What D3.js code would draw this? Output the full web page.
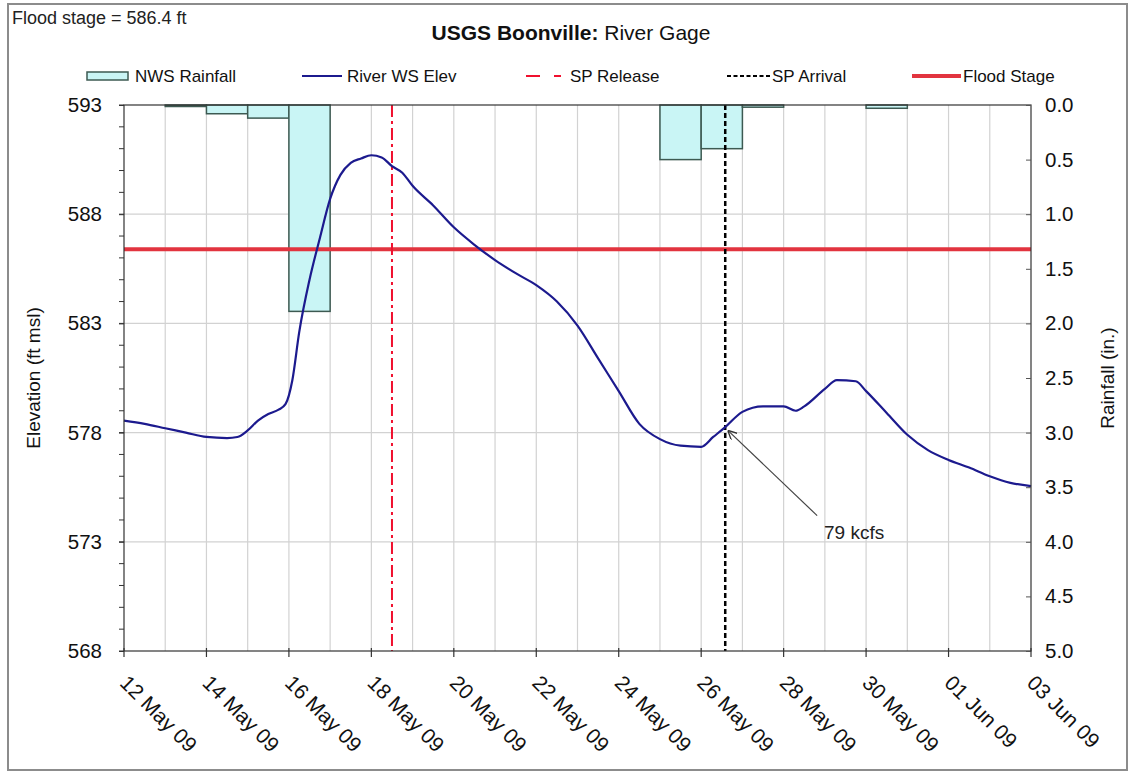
<!DOCTYPE html>
<html>
<head>
<meta charset="utf-8">
<script src="https://cdn.jsdelivr.net/npm/d3@7"></script>
<style>
  html, body { margin: 0; padding: 0; background: #fff; }
  svg { display: block; font-family: "Liberation Sans", Arial, sans-serif; }
</style>
</head>
<body>
<svg id="chart" width="1132" height="775"></svg>
<script>
// ---------------- DATA ----------------
const titleBold = "USGS Boonville:";
const titleRest = " River Gage";
const floodNote = "Flood stage = 586.4 ft";

const rainDates  = ["2009-05-13", "2009-05-14", "2009-05-15", "2009-05-16", "2009-05-25", "2009-05-26", "2009-05-27", "2009-05-30"];
const rainValues = [0.01, 0.08, 0.12, 1.89, 0.50, 0.40, 0.02, 0.03];

const elevTimes = [
  "2009-05-12 00:00","2009-05-12 12:00","2009-05-13 00:00","2009-05-13 12:00","2009-05-14 00:00",
  "2009-05-14 12:00","2009-05-14 18:00","2009-05-15 00:00","2009-05-15 06:00","2009-05-15 12:00",
  "2009-05-15 18:00","2009-05-15 22:00","2009-05-16 02:00","2009-05-16 06:00","2009-05-16 12:00",
  "2009-05-16 18:00","2009-05-17 00:00","2009-05-17 06:00","2009-05-17 12:00","2009-05-17 18:00",
  "2009-05-18 00:00","2009-05-18 06:00","2009-05-18 12:00","2009-05-18 18:00","2009-05-19 00:00",
  "2009-05-19 12:00","2009-05-20 00:00","2009-05-20 12:00","2009-05-21 00:00","2009-05-21 12:00",
  "2009-05-22 00:00","2009-05-22 12:00","2009-05-23 00:00","2009-05-23 12:00","2009-05-24 00:00",
  "2009-05-24 12:00","2009-05-25 00:00","2009-05-25 12:00","2009-05-26 00:00","2009-05-26 07:00",
  "2009-05-26 14:00","2009-05-27 00:00","2009-05-27 12:00","2009-05-28 00:00","2009-05-28 07:00",
  "2009-05-28 12:00","2009-05-29 00:00","2009-05-29 07:00","2009-05-29 18:00","2009-05-30 00:00",
  "2009-05-30 12:00","2009-05-31 00:00","2009-05-31 12:00","2009-06-01 00:00","2009-06-01 12:00",
  "2009-06-02 00:00","2009-06-02 12:00","2009-06-03 00:00"
];
const elevValues = [
  578.55, 578.4, 578.2, 578.0, 577.8,
  577.75, 577.8, 578.1, 578.55, 578.85,
  579.05, 579.3, 580.4, 582.6, 585.0,
  586.9, 588.7, 589.8, 590.35, 590.55,
  590.7, 590.6, 590.2, 589.9, 589.3,
  588.4, 587.4, 586.6, 585.9, 585.3,
  584.75, 584.0, 582.9, 581.4, 579.9,
  578.4, 577.7, 577.4, 577.35, 577.8,
  578.25, 578.95, 579.2, 579.2, 579.0,
  579.2, 580.0, 580.4, 580.35, 579.9,
  578.9, 577.9, 577.2, 576.75, 576.4,
  576.0, 575.7, 575.55
];

const floodStage = 586.4;
const spReleaseTime = "2009-05-18 12:00";
const spArrivalTime = "2009-05-26 14:00";

const xTickDates = ["2009-05-12","2009-05-14","2009-05-16","2009-05-18","2009-05-20","2009-05-22",
                    "2009-05-24","2009-05-26","2009-05-28","2009-05-30","2009-06-01","2009-06-03"];
const leftTicks  = [568, 573, 578, 583, 588, 593];
const rightTicks = [0.0, 0.5, 1.0, 1.5, 2.0, 2.5, 3.0, 3.5, 4.0, 4.5, 5.0];

const annoText = "79 kcfs";
const annoTail = ["2009-05-28 19:30", 574.2];
const annoHead = ["2009-05-26 15:30", 578.1];
const annoLabel = ["2009-05-28 23:30", 573.15];

// ---------------- SETUP ----------------
const parseT = d3.utcParse("%Y-%m-%d %H:%M");
const parseD = d3.utcParse("%Y-%m-%d");
const svg = d3.select("#chart");

const L = 124, R = 1031, T = 105, B = 651;

const x = d3.scaleUtc().domain([parseD("2009-05-12"), parseD("2009-06-03")]).range([L, R]);
const yL = d3.scaleLinear().domain([568, 593]).range([B, T]);
const yR = d3.scaleLinear().domain([0, 5]).range([T, B]);

// outer frame
svg.append("rect").attr("x", 8).attr("y", 4).attr("width", 1119).attr("height", 766)
  .attr("fill", "#fff").attr("stroke", "#8c8c8c").attr("stroke-width", 2);

// top-left note
svg.append("text").attr("x", 12).attr("y", 24).attr("font-size", 18).attr("fill", "#222").text(floodNote);

// title
const title = svg.append("text").attr("x", 571).attr("y", 40).attr("text-anchor", "middle")
  .attr("font-size", 21).attr("fill", "#111");
title.append("tspan").attr("font-weight", "bold").text(titleBold);
title.append("tspan").text(titleRest);

// ---------------- GRID ----------------
const grid = svg.append("g");
const days = d3.utcDay.range(parseD("2009-05-13"), parseD("2009-06-03"));
grid.selectAll("line.v").data(days).join("line")
  .attr("x1", d => x(d)).attr("x2", d => x(d)).attr("y1", T).attr("y2", B)
  .attr("stroke", "#d2d2d2").attr("stroke-width", 1.2);
grid.selectAll("line.h").data(leftTicks.slice(1, -1)).join("line")
  .attr("x1", L).attr("x2", R).attr("y1", d => yL(d)).attr("y2", d => yL(d))
  .attr("stroke", "#d2d2d2").attr("stroke-width", 1.2);

// ---------------- RAIN BARS ----------------
const rain = rainDates.map((d, i) => ({ t: parseD(d), v: rainValues[i] }));
svg.append("g").selectAll("rect").data(rain).join("rect")
  .attr("x", d => x(d.t))
  .attr("width", d => x(d3.utcDay.offset(d.t, 1)) - x(d.t))
  .attr("y", yR(0))
  .attr("height", d => Math.max(1.5, yR(d.v) - yR(0)))
  .attr("fill", "#c9f5f5").attr("stroke", "#3d5a52").attr("stroke-width", 1.5);

// ---------------- FLOOD STAGE ----------------
svg.append("line").attr("x1", L).attr("x2", R).attr("y1", yL(floodStage)).attr("y2", yL(floodStage))
  .attr("stroke", "#e2343f").attr("stroke-width", 4);

// SP release / arrival
svg.append("line").attr("x1", x(parseT(spReleaseTime))).attr("x2", x(parseT(spReleaseTime)))
  .attr("y1", T).attr("y2", B).attr("stroke", "#f0102e").attr("stroke-width", 2)
  .attr("stroke-dasharray", "12,4,3,4");
svg.append("line").attr("x1", x(parseT(spArrivalTime))).attr("x2", x(parseT(spArrivalTime)))
  .attr("y1", T).attr("y2", B).attr("stroke", "#000").attr("stroke-width", 2.5)
  .attr("stroke-dasharray", "5,3");

// ---------------- RIVER LINE ----------------
const elev = elevTimes.map((t, i) => ({ t: parseT(t), v: elevValues[i] }));
svg.append("path").datum(elev)
  .attr("d", d3.line().x(d => x(d.t)).y(d => yL(d.v)).curve(d3.curveMonotoneX))
  .attr("fill", "none").attr("stroke", "#1c1a8e").attr("stroke-width", 2.2);

// ---------------- ANNOTATION ----------------
svg.append("defs").append("marker").attr("id", "arr").attr("viewBox", "0 0 10 10")
  .attr("refX", 10).attr("refY", 5).attr("markerWidth", 9).attr("markerHeight", 9)
  .attr("orient", "auto").attr("markerUnits", "userSpaceOnUse")
  .append("path").attr("d", "M0,0 L10,5 L0,10").attr("fill", "none").attr("stroke", "#333").attr("stroke-width", 1.5);
svg.append("line")
  .attr("x1", x(parseT(annoTail[0]))).attr("y1", yL(annoTail[1]))
  .attr("x2", x(parseT(annoHead[0]))).attr("y2", yL(annoHead[1]))
  .attr("stroke", "#444").attr("stroke-width", 1.2).attr("marker-end", "url(#arr)");
svg.append("text").attr("x", x(parseT(annoLabel[0]))).attr("y", yL(annoLabel[1]))
  .attr("font-size", 19).attr("fill", "#222").text(annoText);

// ---------------- FRAME & AXES ----------------
svg.append("rect").attr("x", L).attr("y", T).attr("width", R - L).attr("height", B - T)
  .attr("fill", "none").attr("stroke", "#333").attr("stroke-width", 1.2);

// left axis minor ticks
svg.append("g").selectAll("line").data(d3.range(568, 594, 1)).join("line")
  .attr("x1", L - 5).attr("x2", L).attr("y1", d => yL(d)).attr("y2", d => yL(d))
  .attr("stroke", "#333").attr("stroke-width", 1);
const axL = svg.append("g").attr("transform", `translate(${L},0)`)
  .call(d3.axisLeft(yL).tickValues(leftTicks).tickFormat(d3.format("d")).tickSize(5).tickPadding(17));
axL.select(".domain").remove();
axL.selectAll("text").attr("font-size", 20.5).attr("fill", "#111").attr("font-family", "Liberation Sans, Arial, sans-serif");
axL.selectAll("line").attr("stroke", "#333");

const axR = svg.append("g").attr("transform", `translate(${R},0)`)
  .call(d3.axisRight(yR).tickValues(rightTicks).tickFormat(d3.format(".1f")).tickSize(-5).tickPadding(14));
axR.select(".domain").remove();
axR.selectAll("text").attr("font-size", 20.5).attr("fill", "#111").attr("font-family", "Liberation Sans, Arial, sans-serif");
axR.selectAll("line").attr("stroke", "#555");

// bottom axis
const xTicks = xTickDates.map(parseD);
const fmt = d3.utcFormat("%d %b %y");
const axB = svg.append("g").attr("transform", `translate(0,${B})`);
axB.selectAll("line").data(xTicks).join("line")
  .attr("x1", d => x(d)).attr("x2", d => x(d)).attr("y1", -3).attr("y2", 6)
  .attr("stroke", "#333").attr("stroke-width", 1.2);
axB.selectAll("text").data(xTicks).join("text")
  .attr("transform", d => `translate(${x(d)},${28}) rotate(45)`)
  .attr("text-anchor", "start").attr("dy", "0.35em")
  .attr("font-size", 21).attr("fill", "#111").text(d => fmt(d));

// axis titles
svg.append("text").attr("transform", `translate(40,${(T + B) / 2}) rotate(-90)`)
  .attr("text-anchor", "middle").attr("font-size", 19).attr("fill", "#111").text("Elevation (ft msl)");
svg.append("text").attr("transform", `translate(1114,${(T + B) / 2}) rotate(-90)`)
  .attr("text-anchor", "middle").attr("font-size", 19).attr("fill", "#111").text("Rainfall (in.)");

// ---------------- LEGEND ----------------
const lg = svg.append("g").attr("font-size", 17).attr("fill", "#111");
const ly = 76;
lg.append("rect").attr("x", 87).attr("y", ly - 4).attr("width", 41).attr("height", 8)
  .attr("fill", "#c9f5f5").attr("stroke", "#3d5a52").attr("stroke-width", 1.5);
lg.append("text").attr("x", 135).attr("y", ly).attr("dy", "0.35em").text("NWS Rainfall");
lg.append("line").attr("x1", 302).attr("x2", 342).attr("y1", ly).attr("y2", ly)
  .attr("stroke", "#1c1a8e").attr("stroke-width", 2.2);
lg.append("text").attr("x", 347).attr("y", ly).attr("dy", "0.35em").text("River WS Elev");
lg.append("line").attr("x1", 526).attr("x2", 566).attr("y1", ly).attr("y2", ly)
  .attr("stroke", "#f0102e").attr("stroke-width", 2).attr("stroke-dasharray", "14,14,7,5");
lg.append("text").attr("x", 570).attr("y", ly).attr("dy", "0.35em").text("SP Release");
lg.append("line").attr("x1", 727).attr("x2", 770).attr("y1", ly).attr("y2", ly)
  .attr("stroke", "#000").attr("stroke-width", 1.8).attr("stroke-dasharray", "4,2.5");
lg.append("text").attr("x", 772).attr("y", ly).attr("dy", "0.35em").text("SP Arrival");
lg.append("line").attr("x1", 912).attr("x2", 961).attr("y1", ly).attr("y2", ly)
  .attr("stroke", "#e2343f").attr("stroke-width", 4);
lg.append("text").attr("x", 963).attr("y", ly).attr("dy", "0.35em").text("Flood Stage");
</script>
</body>
</html>
